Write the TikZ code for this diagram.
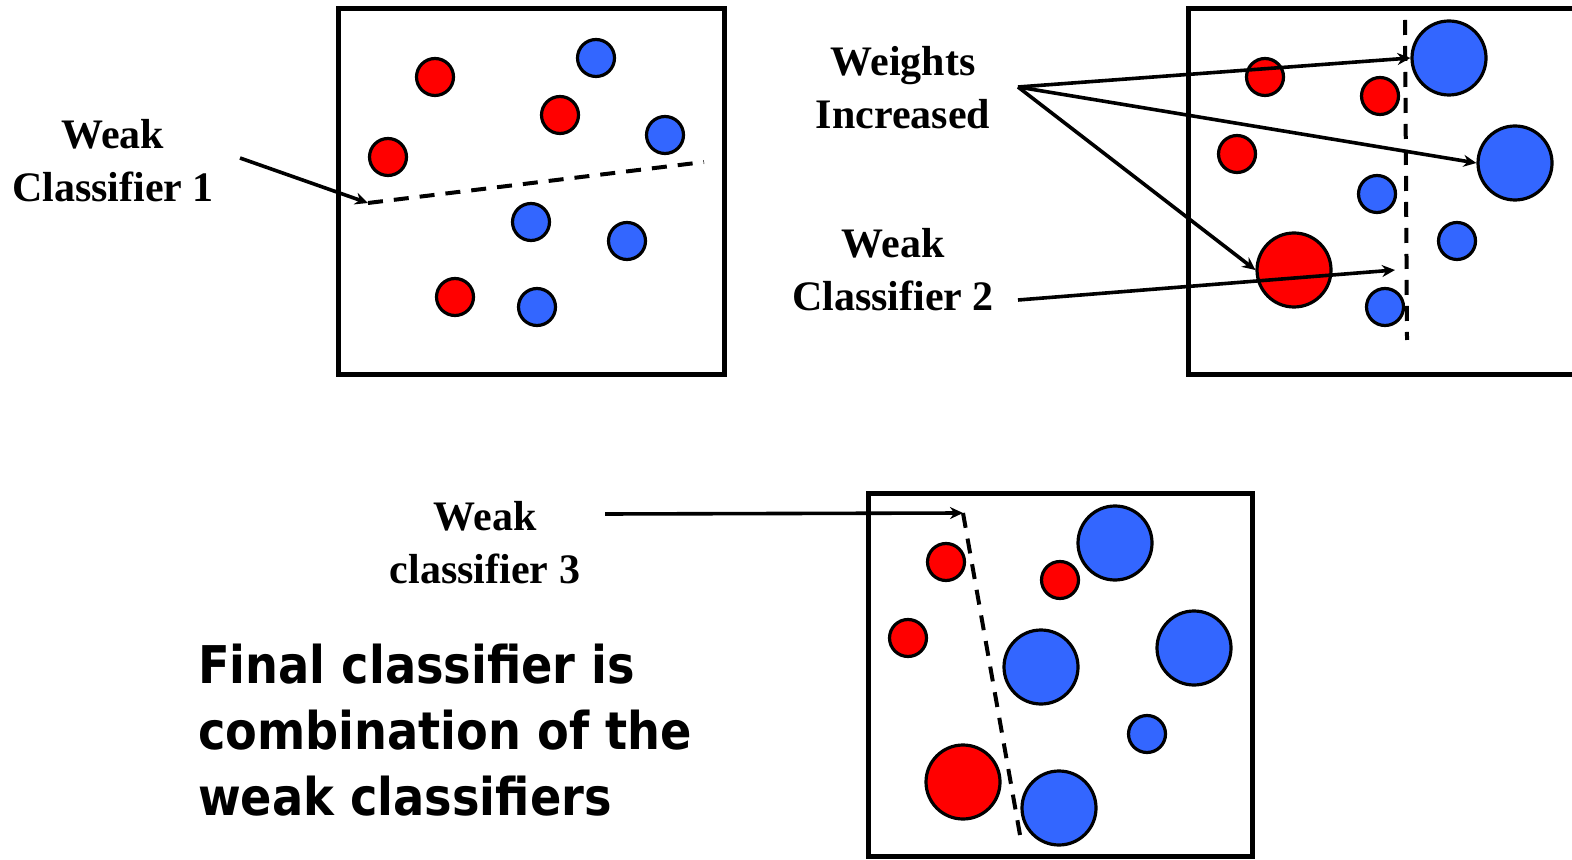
\documentclass[tikz,border=0pt]{standalone}
\usepackage{fontspec}
\setmainfont{Liberation Serif}
\newfontfamily\finalfont[FakeStretch=0.89]{DejaVu Sans}
\usetikzlibrary{arrows.meta}
\definecolor{ptred}{RGB}{255,0,0}
\definecolor{ptblue}{RGB}{51,102,255}
\tikzset{
  frame/.style={line width=2.5pt},
  pt/.style={circle, draw, line width=1.6pt, inner sep=0pt, minimum size=18.5pt},
  bigpt/.style={pt, minimum size=37pt},
  sep/.style={line width=2pt, dash pattern=on 7.5pt off 5.5pt},
  ptr/.style={line width=1.8pt, -{Stealth[length=6.5pt,width=6pt]}},
  lbl/.style={font=\bfseries\fontsize{21}{26.5}\selectfont, align=center}
}
\begin{document}
\begin{tikzpicture}[x=0.5pt,y=-0.5pt]
\useasboundingbox (0,0) rectangle (1572,860);
% first round
\draw[frame] (338,9) rectangle (724,375);
\node[pt,fill=ptred] (r11) at (435,77) {};
\node[pt,fill=ptblue] (b11) at (596,58) {};
\node[pt,fill=ptred] (r12) at (560,115) {};
\node[pt,fill=ptblue] (b12) at (665,135) {};
\node[pt,fill=ptred] (r13) at (388,157) {};
\node[pt,fill=ptblue] (b13) at (531,222) {};
\node[pt,fill=ptblue] (b14) at (627,241) {};
\node[pt,fill=ptred] (r14) at (455,297) {};
\node[pt,fill=ptblue] (b15) at (537,307) {};
\coordinate (s1a) at (368,203);
\coordinate (s1b) at (704,162);
\draw[sep] (s1a) -- (s1b);
\node[lbl] (wc1) at (113,161) {Weak\\Classifier 1};
\coordinate (wc1t) at (240,158);
\draw[ptr] (wc1t) -- (s1a);
% second round
\draw[frame] (1572,9) -- (1188,9) -- (1188,375) -- (1572,375);
\node[pt,fill=ptred] (r21) at (1265,77) {};
\node[bigpt,fill=ptblue] (b21) at (1449,58) {};
\node[pt,fill=ptred] (r22) at (1380,96) {};
\node[pt,fill=ptred] (r23) at (1237,154) {};
\node[bigpt,fill=ptblue] (b22) at (1515,163) {};
\node[pt,fill=ptblue] (b23) at (1377,194) {};
\node[pt,fill=ptblue] (b24) at (1457,241) {};
\node[bigpt,fill=ptred] (r24) at (1294,270) {};
\node[pt,fill=ptblue] (b25) at (1385,307) {};
\coordinate (s2a) at (1405,20);
\coordinate (s2b) at (1407,340);
\draw[sep] (s2a) -- (s2b);
\node[lbl] (wi) at (903,88) {Weights\\Increased};
\node[lbl] (wc2) at (893,270) {Weak\\Classifier 2};
\coordinate (wit) at (1018,87);
\coordinate (wc2t) at (1018,300);
\coordinate (wc2h) at (1395,270);
\draw[ptr] (wit) -- (b21.west);
\draw[ptr] (wit) -- (b22.west);
\draw[ptr] (wit) -- (r24.west);
\draw[ptr] (wc2t) -- (wc2h);
% third round
\draw[frame] (868,493) rectangle (1252,856);
\node[pt,fill=ptred] (r31) at (946,562) {};
\node[pt,fill=ptred] (r32) at (1060,580) {};
\node[bigpt,fill=ptblue] (b31) at (1115,543) {};
\node[pt,fill=ptred] (r33) at (908,638) {};
\node[bigpt,fill=ptblue] (b32) at (1041,667) {};
\node[bigpt,fill=ptblue] (b33) at (1194,648) {};
\node[pt,fill=ptblue] (b34) at (1147,734) {};
\node[bigpt,fill=ptred] (r34) at (963,782) {};
\node[bigpt,fill=ptblue] (b35) at (1059,808) {};
\coordinate (s3a) at (963,513);
\coordinate (s3b) at (1020,835);
\draw[sep] (s3a) -- (s3b);
\node[lbl] (wc3) at (485,543) {Weak\\classifier 3};
\coordinate (wc3t) at (605,514);
\draw[ptr] (wc3t) -- (s3a);
\node[anchor=base west, align=left, font=\finalfont\bfseries\fontsize{26}{33}\selectfont] (fin) at (191,815)
  {Final classifier is\\combination of the\\weak classifiers};
\end{tikzpicture}
\end{document}
